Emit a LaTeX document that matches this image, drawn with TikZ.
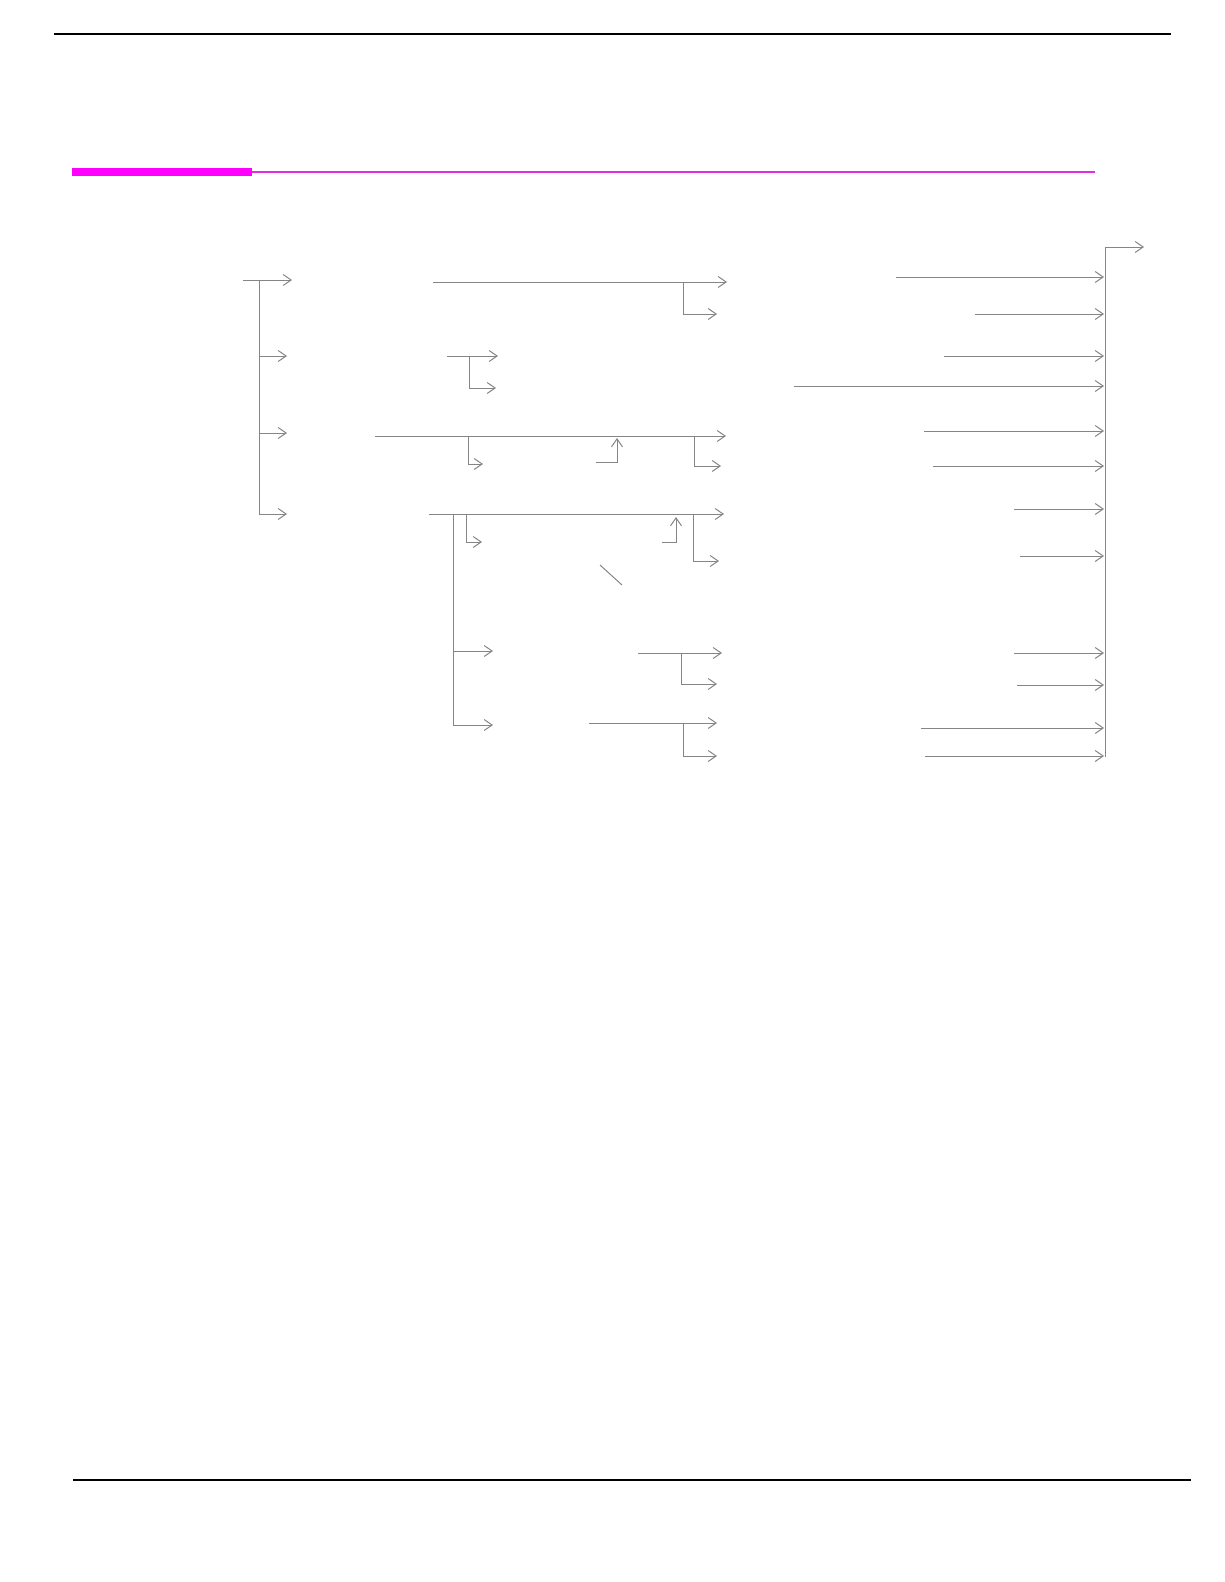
\documentclass[tikz,border=0pt]{standalone}
\usetikzlibrary{arrows.meta}
\definecolor{linegray}{HTML}{858585}
\definecolor{magbar}{HTML}{FF00FF}
\definecolor{magline}{HTML}{E02EE0}
\tikzset{
  conn/.style={draw=linegray, line width=1pt},
  arr/.style={conn, -{Straight Barb[length=8pt,width=11pt]}},
  rule/.style={draw=black, line width=1.4pt}
}
\begin{document}
\begin{tikzpicture}[x=1pt,y=-1pt]
\useasboundingbox (0,0) rectangle (1224,1582);
% page rules
\coordinate (tl) at (54,34); \coordinate (tr) at (1171,34);
\draw[rule] (tl) -- (tr);
\coordinate (bl) at (73,1480); \coordinate (br) at (1191,1480);
\draw[rule] (bl) -- (br);
% magenta heading bar
\coordinate (mb1) at (72,168); \coordinate (mb2) at (252,176);
\fill[magbar] (mb1) rectangle (mb2);
\coordinate (ml1) at (252,172); \coordinate (ml2) at (1095,172);
\draw[magline, line width=2.2pt] (ml1) -- (ml2);

% ---- left tree ----
\coordinate (l0) at (243,280); \coordinate (l0e) at (292,280);
\draw[arr] (l0) -- (l0e);
\coordinate (lv1) at (259,280); \coordinate (lv2) at (259,514);
\draw[conn] (lv1) -- (lv2);
\foreach \i/\y in {a/356,b/433,c/514}{
  \coordinate (lb\i) at (259,\y); \coordinate (lbe\i) at (287,\y);
  \draw[arr] (lb\i) -- (lbe\i);
}

% row 1
\coordinate (r1s) at (433,282); \coordinate (r1e) at (727,282);
\draw[arr] (r1s) -- (r1e);
\coordinate (r1b) at (683,282); \coordinate (r1be) at (717,314);
\draw[arr] (r1b) |- (r1be);

% row 2
\coordinate (r2s) at (447,356); \coordinate (r2e) at (498,356);
\draw[arr] (r2s) -- (r2e);
\coordinate (r2b) at (469,356); \coordinate (r2be) at (496,388);
\draw[arr] (r2b) |- (r2be);

% row 3
\coordinate (r3s) at (375,436); \coordinate (r3e) at (726,436);
\draw[arr] (r3s) -- (r3e);
\coordinate (r3b) at (468,436); \coordinate (r3be) at (483,464);
\draw[arr] (r3b) |- (r3be);
\coordinate (r3u) at (596,462); \coordinate (r3ue) at (617,438);
\draw[arr] (r3u) -| (r3ue);
\coordinate (r3c) at (694,436); \coordinate (r3ce) at (721,466);
\draw[arr] (r3c) |- (r3ce);

% row 4
\coordinate (r4s) at (429,514); \coordinate (r4e) at (724,514);
\draw[arr] (r4s) -- (r4e);
\coordinate (r4v1) at (453,514); \coordinate (r4v2) at (453,725);
\draw[conn] (r4v1) -- (r4v2);
\coordinate (r4b) at (466,514); \coordinate (r4be) at (482,542);
\draw[arr] (r4b) |- (r4be);
\coordinate (r4u) at (662,542); \coordinate (r4ue) at (676,517);
\draw[arr] (r4u) -| (r4ue);
\coordinate (r4c) at (693,514); \coordinate (r4ce) at (719,561);
\draw[arr] (r4c) |- (r4ce);
\coordinate (dg1) at (600,565); \coordinate (dg2) at (622,585);
\draw[conn] (dg1) -- (dg2);

% sub rows under row 4
\coordinate (s1b) at (453,651); \coordinate (s1be) at (493,651);
\draw[arr] (s1b) -- (s1be);
\coordinate (s1s) at (638,653); \coordinate (s1e) at (722,653);
\draw[arr] (s1s) -- (s1e);
\coordinate (s1c) at (681,653); \coordinate (s1ce) at (717,684);
\draw[arr] (s1c) |- (s1ce);

\coordinate (s2b) at (453,725); \coordinate (s2be) at (493,725);
\draw[arr] (s2b) -- (s2be);
\coordinate (s2s) at (589,723); \coordinate (s2e) at (717,723);
\draw[arr] (s2s) -- (s2e);
\coordinate (s2c) at (683,723); \coordinate (s2ce) at (717,756);
\draw[arr] (s2c) |- (s2ce);

% ---- right collector ----
\coordinate (rv1) at (1105,247); \coordinate (rv2) at (1105,757);
\draw[conn] (rv1) -- (rv2);
\coordinate (rout) at (1144,247);
\draw[arr] (rv1) -- (rout);
\foreach \i/\x/\y in {1/896/277,2/975/314,3/944/356,4/794/386,5/924/431,6/933/466,
                      7/1014/509,8/1020/556,9/1014/653,10/1017/685,11/921/728,12/925/756}{
  \coordinate (ri\i) at (\x,\y); \coordinate (rie\i) at (1104,\y);
  \draw[arr] (ri\i) -- (rie\i);
}
\end{tikzpicture}
\end{document}
